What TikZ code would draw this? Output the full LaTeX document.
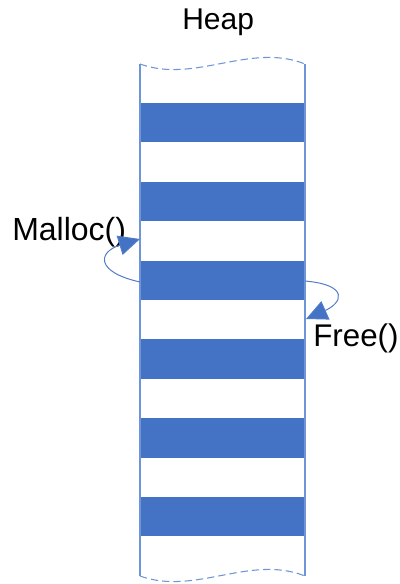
\documentclass[tikz,border=0pt]{standalone}
\usepackage{fontspec}
\setmainfont{Liberation Sans}
\usetikzlibrary{arrows.meta}
\definecolor{band}{RGB}{68,114,196}
\definecolor{edge}{RGB}{110,150,215}
\definecolor{arr}{RGB}{80,125,200}
\begin{document}
\begin{tikzpicture}[x=0.75pt,y=-0.75pt,
  bandbox/.style={fill=band,draw=none},
  sideline/.style={draw=edge,line width=0.8pt},
  waveline/.style={draw=edge,line width=0.8pt,dash pattern=on 5.5pt off 3pt},
  callarrow/.style={draw=arr,line width=0.75pt,-{Triangle[length=16pt,width=15pt,fill=band]}},
  lbl/.style={inner sep=0pt,anchor=base west,text=black}]
\useasboundingbox (0,0) rectangle (399,584);
% column fill
\fill[white] (140,64) .. controls (195,84) and (250,42) .. (305,64) -- (305,576)
  .. controls (250,554) and (195,596) .. (140,576) -- cycle;
% bands
\foreach \i in {0,...,5}{
  \fill[bandbox] (140,{103+78.8*\i}) rectangle (305,{142.4+78.8*\i});
}
% sides and waves
\draw[sideline] (140,64) -- (140,576);
\draw[sideline] (305,64) -- (305,576);
\draw[waveline] (140,64) .. controls (195,84) and (250,42) .. (305,64);
\draw[waveline] (140,576) .. controls (195,596) and (250,554) .. (305,576);
% labels
\node[lbl,font=\fontsize{22.5pt}{26pt}\selectfont] (heap) at (182,30) {Heap};
\node[lbl,font=\fontsize{24pt}{28pt}\selectfont] (malloc) at (12,241) {Malloc()};
\node[lbl,font=\fontsize{23.5pt}{27pt}\selectfont] (free) at (313,346) {Free()};
% arrow end points
\coordinate (ms) at (140,282);
\coordinate (me) at (140,239);
\coordinate (fs) at (305,281);
\coordinate (fe) at (306,319);
\draw[callarrow] (ms) .. controls (95,272) and (98,252) .. (me);
\draw[callarrow] (fs) .. controls (350,285) and (342,303) .. (fe);
\end{tikzpicture}
\end{document}
